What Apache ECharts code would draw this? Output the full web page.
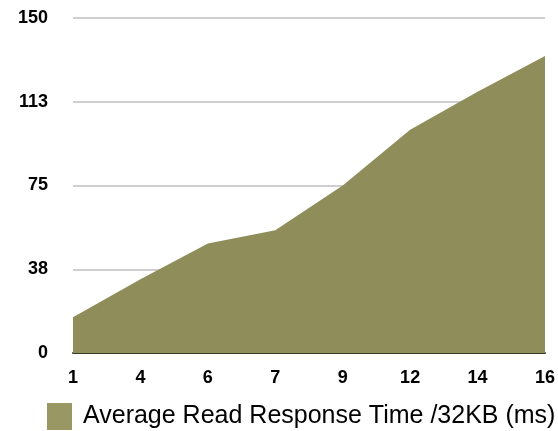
<!DOCTYPE html>
<html>
<head>
<meta charset="utf-8">
<style>
  html, body { margin: 0; padding: 0; background: #fff; }
  #chart { width: 558px; height: 431px; }
</style>
<script src="https://cdn.jsdelivr.net/npm/echarts@6/dist/echarts.min.js"></script>
</head>
<body>
<div id="chart"></div>
<script>
// Thread counts along the x axis
const categories = ['1', '4', '6', '7', '9', '12', '14', '16'];
// Average read response time per 32KB block, in ms
const responseTimes = [16, 33, 49, 55, 75, 100, 117, 133];
// Y axis tick labels (rounded quarter steps of 150)
const yTickLabels = ['0', '38', '75', '113', '150'];
const seriesName = 'Average Read Response Time /32KB (ms)';

const chart = echarts.init(document.getElementById('chart'), null, { renderer: 'canvas' });

const fillColor = '#8f8e5b';
const swatchColor = '#999865';
const labelFont = 'Liberation Sans, Arial, Helvetica, sans-serif';

chart.setOption({
  animation: false,
  backgroundColor: '#ffffff',
  grid: { left: 73, right: 11, top: 18, bottom: 78, containLabel: false },
  legend: {
    data: [{ name: seriesName, icon: 'rect', itemStyle: { color: swatchColor } }],
    left: 47,
    top: 403,
    padding: 0,
    itemWidth: 25,
    itemHeight: 27,
    itemGap: 10,
    textStyle: { fontFamily: labelFont, fontSize: 25, color: '#000', padding: [0, 0, 0, 6] }
  },
  xAxis: {
    type: 'category',
    data: categories,
    boundaryGap: false,
    axisLine: { show: true, lineStyle: { color: '#3a3a2a', width: 2 } },
    axisTick: { show: false },
    axisLabel: {
      margin: 16,
      fontFamily: labelFont,
      fontWeight: 'bold',
      fontSize: 18,
      color: '#000'
    },
    splitLine: { show: false }
  },
  yAxis: {
    type: 'value',
    min: 0,
    max: 150,
    interval: 37.5,
    axisLine: { show: false },
    axisTick: { show: false },
    axisLabel: {
      margin: 25,
      fontFamily: labelFont,
      fontWeight: 'bold',
      fontSize: 18,
      color: '#000',
      formatter: function (v) { return yTickLabels[Math.round(v / 37.5)]; }
    },
    splitLine: { show: true, lineStyle: { color: '#cfcdd2', width: 2 } }
  },
  series: [{
    name: seriesName,
    type: 'line',
    data: responseTimes,
    symbol: 'none',
    lineStyle: { width: 0, color: fillColor },
    itemStyle: { color: fillColor },
    areaStyle: { color: fillColor, opacity: 1 },
    z: 3
  }]
});
</script>
</body>
</html>
